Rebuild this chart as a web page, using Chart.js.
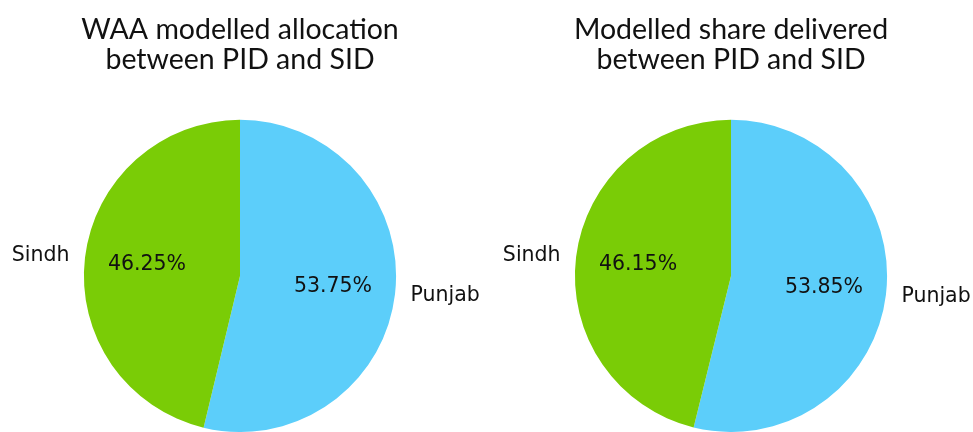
<!DOCTYPE html>
<html>
<head>
<meta charset="utf-8">
<script src="https://cdn.jsdelivr.net/npm/chart.js@4.4.1/dist/chart.umd.min.js"></script>
<style>
  body { margin: 0; background: #fff; }
  #wrap { width: 973px; height: 432px; display: flex; overflow: hidden; }
  canvas { display: block; }
</style>
</head>
<body>
<div id="wrap">
  <canvas id="left" width="486" height="432"></canvas>
  <canvas id="right" width="487" height="432"></canvas>
</div>
<script>
// data
var categories = ['Punjab', 'Sindh'];
var allocation = [53.75, 46.25];
var delivered = [53.85, 46.15];
var titleLeft = ['WAA modelled allocation', 'between PID and SID'];
var titleRight = ['Modelled share delivered', 'between PID and SID'];
var colors = ['#5ccefa', '#7acc06'];

// matplotlib style labels: name at 1.1 r, percent at 0.6 r
var pieLabels = {
    id: 'pieLabels',
    afterDatasetsDraw: function(chart) {
        var ctx = chart.ctx;
        var meta = chart.getDatasetMeta(0);
        var values = chart.data.datasets[0].data;
        ctx.save();
        ctx.fillStyle = '#111';
        ctx.font = '20.5px "DejaVu Sans"';
        ctx.textBaseline = 'middle';
        meta.data.forEach(function(arc, i) {
            var p = arc.getProps(['x', 'y', 'startAngle', 'endAngle', 'outerRadius'], true);
            var mid = (p.startAngle + p.endAngle) / 2;
            var cx = Math.cos(mid), cy = Math.sin(mid);
            ctx.textAlign = 'center';
            ctx.fillText(values[i].toFixed(2) + '%', p.x + cx * p.outerRadius * 0.6, p.y + cy * p.outerRadius * 0.6);
            ctx.textAlign = cx >= 0 ? 'left' : 'right';
            ctx.fillText(chart.data.labels[i], p.x + cx * p.outerRadius * 1.1, p.y + cy * p.outerRadius * 1.1);
        });
        ctx.restore();
    }
};

function makePie(id, title, values, pad) {
    return new Chart(document.getElementById(id), {
        type: 'pie',
        data: {
            labels: categories,
            datasets: [{
                data: values,
                backgroundColor: colors,
                borderWidth: 0,
                hoverOffset: 0
            }]
        },
        options: {
            responsive: false,
            animation: false,
            layout: { padding: pad },
            plugins: {
                legend: { display: false },
                tooltip: { enabled: false },
                title: {
                    display: true,
                    text: title,
                    color: '#111',
                    font: { family: 'Lato', size: 28.5, weight: 'normal', lineHeight: 1.05 },
                    padding: { top: 15, bottom: 45 }
                }
            }
        },
        plugins: [pieLabels]
    });
}

makePie('left', titleLeft, allocation, { left: 0, right: 6 });
makePie('right', titleRight, delivered, { left: 3, right: 0 });
</script>
</body>
</html>
